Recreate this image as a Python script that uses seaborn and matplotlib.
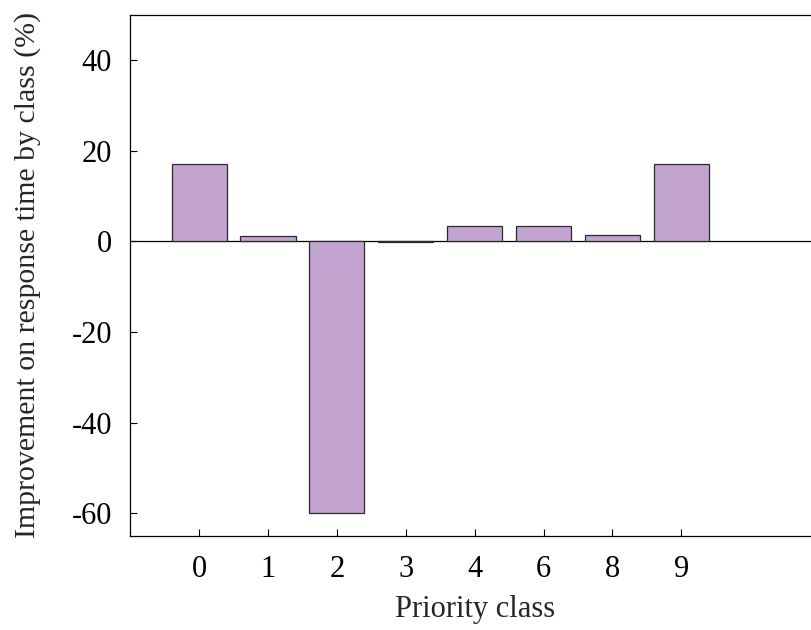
import matplotlib
matplotlib.use("Agg")
import matplotlib.pyplot as plt
import seaborn as sns
import pandas as pd

classes = ["0", "1", "2", "3", "4", "6", "8", "9"]
improvement = [17.0, 1.1, -60.0, -0.2, 3.4, 3.4, 1.3, 17.0]
yticks = [-60, -40, -20, 0, 20, 40]

sns.set_theme(style="white")
plt.rcParams["font.family"] = ["Liberation Serif", "DejaVu Serif"]

df = pd.DataFrame({"cls": classes, "val": improvement})

W, H = 811, 630
left_px, right_px, top_px, bottom_px = 130.3, 819.0, 14.5, 536.0
fig = plt.figure(figsize=(W / 100, H / 100), dpi=100)
ax = fig.add_axes([left_px / W, 1 - bottom_px / H,
                   (right_px - left_px) / W, (bottom_px - top_px) / H])

sns.barplot(data=df, x="cls", y="val", order=classes, color="#C3A3CF",
            saturation=1, width=0.8, edgecolor="#2a2a2a", linewidth=0.9, ax=ax)

ax.axhline(0, color="black", linewidth=0.9, zorder=0.5)
ax.set_xlim(-1, 9)
ax.set_ylim(-65, 50)
ax.set_yticks(yticks)
ax.set_yticklabels([str(v) for v in yticks])

fs = 22
ax.set_xlabel("Priority class", fontsize=fs)
ax.set_ylabel("Improvement on response time by class (%)", fontsize=21.5)
ax.xaxis.label.set_va("center")
ax.yaxis.label.set_va("center")
ax.xaxis.set_label_coords(0.5, -0.141)
ax.yaxis.set_label_coords(-0.1486, 0.5)

ax.tick_params(axis="both", labelsize=fs, direction="in", length=5, width=0.8,
               colors="black")
ax.tick_params(axis="x", bottom=True, pad=14)
ax.tick_params(axis="y", left=True, pad=13)

for side in ("left", "bottom", "top"):
    ax.spines[side].set_color("black")
    ax.spines[side].set_linewidth(0.9)
ax.spines["right"].set_visible(False)

fig.savefig("out.png", dpi=100)
